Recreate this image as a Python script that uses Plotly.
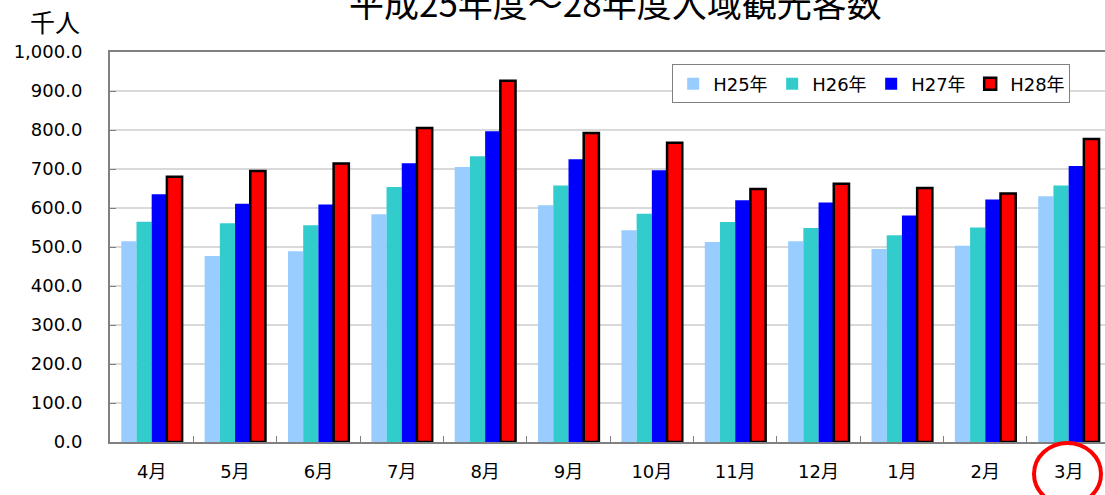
import plotly.graph_objects as go

# 月別入域観光客数（千人）
months = ["4月", "5月", "6月", "7月", "8月", "9月", "10月", "11月", "12月", "1月", "2月", "3月"]
h25 = [515, 477, 489, 584, 705, 607, 543, 513, 515, 495, 503, 630]
h26 = [565, 561, 556, 654, 733, 658, 585, 564, 549, 530, 550, 658]
h27 = [635, 611, 609, 715, 797, 725, 697, 620, 614, 581, 622, 708]
h28 = [680, 695, 714, 805, 926, 792, 767, 649, 662, 651, 637, 777]

series_names = ["H25年", "H26年", "H27年", "H28年"]
series_values = [h25, h26, h27, h28]
series_colors = ["#99CCFF", "#33CCCC", "#0000FF", "#FF0000"]

FONT = "DejaVu Sans, Noto Sans CJK JP, sans-serif"
CJK = "Noto Sans CJK JP, sans-serif"

fig = go.Figure()
for name, vals, color in zip(series_names, series_values, series_colors):
    outlined = name == "H28年"
    fig.add_trace(go.Bar(
        name=name, x=months, y=vals,
        marker=dict(color=color,
                    line=dict(color="#000000" if outlined else color,
                              width=2.5 if outlined else 0)),
    ))

fig.update_layout(
    width=1105, height=495,
    margin=dict(l=110, r=0, t=52, b=53, autoexpand=False),
    paper_bgcolor="white", plot_bgcolor="white",
    barmode="group", bargap=0.27, bargroupgap=0,
    font=dict(family=FONT, size=18, color="#000000"),
    showlegend=True,
    legend=dict(
        orientation="h", x=0.565, y=0.968, xanchor="left", yanchor="top",
        bgcolor="white", bordercolor="#808080", borderwidth=1,
        font=dict(family=FONT, size=18), itemwidth=30,
        entrywidth=54, entrywidthmode="pixels",
        traceorder="normal",
    ),
)

fig.update_xaxes(
    range=[-0.5, 11.436], showline=True, linecolor="#808080", linewidth=2,
    mirror=True, ticks="inside", tickson="boundaries", ticklen=6,
    tickcolor="#808080", showgrid=False, tickfont=dict(size=18),
    ticklabelstandoff=12,
)
fig.update_yaxes(
    range=[0, 1000], dtick=100, tickformat=",.1f",
    showline=True, linecolor="#808080", linewidth=2,
    ticks="inside", ticklen=6, tickcolor="#808080",
    showgrid=True, gridcolor="#d9d9d9", gridwidth=1.5,
    tickfont=dict(size=18), ticklabelstandoff=22, zeroline=False,
)

# タイトルと単位
fig.add_annotation(text="平成25年度～28年度入域観光客数", xref="paper", yref="paper",
                   x=(615 - 110) / 995, y=1 + (52 - 1) / 390, xanchor="center",
                   yanchor="middle", showarrow=False, font=dict(family=CJK, size=35))
fig.add_annotation(text="千人", xref="paper", yref="paper",
                   x=(55 - 110) / 995, y=1 + (52 - 21) / 390, xanchor="center",
                   yanchor="middle", showarrow=False, font=dict(family=CJK, size=25))

# 3月を強調する赤い円
fig.add_shape(type="circle", xref="paper", yref="paper",
              x0=(1034 - 110) / 995, x1=(1101 - 110) / 995,
              y0=-(505 - 442) / 390, y1=-(443 - 442) / 390,
              line=dict(color="#FF0000", width=4))

fig.write_html("out.html")
